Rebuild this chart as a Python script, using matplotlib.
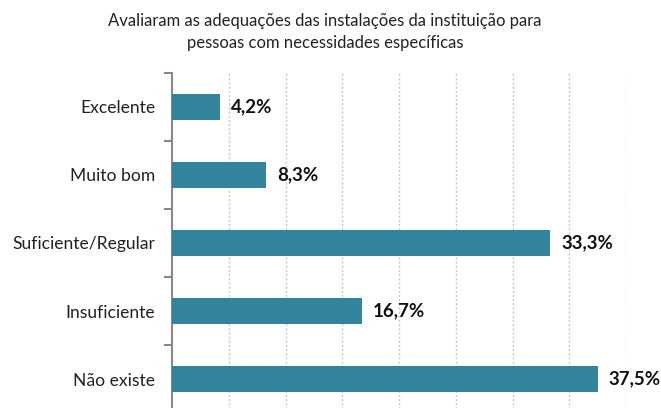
import matplotlib
matplotlib.use("Agg")
import matplotlib.pyplot as plt
import numpy as np

categories = ["Excelente", "Muito bom", "Suficiente/Regular", "Insuficiente", "Não existe"]
values = [4.2, 8.3, 33.3, 16.7, 37.5]
title = "Avaliaram as adequações das instalações da instituição para\npessoas com necessidades específicas"

plt.rcParams['font.family'] = ['Lato', 'DejaVu Sans']

W, H = 661, 408
fig = plt.figure(figsize=(W / 100, H / 100), dpi=100)
# axes box in pixels: x 172..626, y 73..413 (bottom runs past the figure edge)
x0, x1 = 172, 626
y0, y1 = 73, 413
ax = fig.add_axes([x0 / W, (H - y1) / H, (x1 - x0) / W, (y1 - y0) / H])

n = len(categories)
pos = np.arange(n)
ax.barh(pos, values, height=0.39, color="#31849B", zorder=3)
ax.set_ylim(n - 0.5, -0.5)
ax.set_xlim(0, 40)

ax.set_xticks(np.arange(5, 41, 5))
ax.tick_params(axis='x', length=0, labelbottom=False)
ax.grid(axis='x', color="#c8c8c8", linestyle=(0, (1.5, 1.5)), linewidth=1.0, zorder=0)

ax.set_yticks(pos)
ax.set_yticklabels(categories, fontsize=12.6, color="#222222")
ax.tick_params(axis='y', length=0, pad=12)
ax.set_yticks(np.arange(-0.5, n + 0.5, 1), minor=True)
ax.tick_params(axis='y', which='minor', length=6, width=1.5, color="#888888", direction='out')

for s in ['top', 'right', 'bottom']:
    ax.spines[s].set_visible(False)
ax.spines['left'].set_color("#888888")
ax.spines['left'].set_linewidth(1.5)

for p, v in zip(pos, values):
    ax.annotate(f"{v:.1f}%".replace(".", ","), (v, p), xytext=(8, 0),
                textcoords='offset points', va='center', ha='left',
                fontsize=13.5, fontweight='bold', color="#111111")

fig.text(0.492, 0.922, title, ha='center', va='center', fontsize=12,
         color="#222222", linespacing=1.5)

fig.savefig("out.png", dpi=100)
